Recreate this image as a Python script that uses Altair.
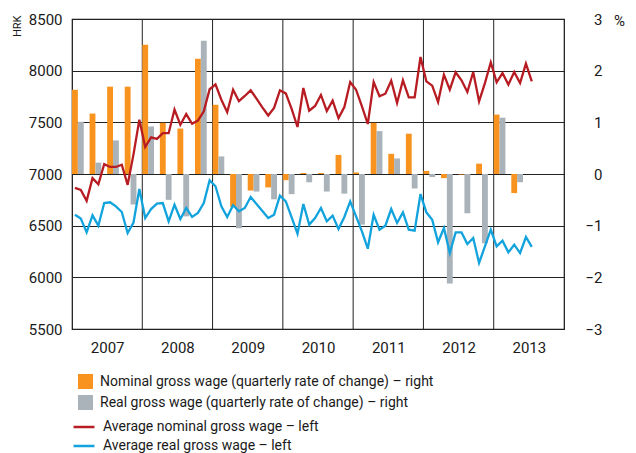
import altair as alt
import pandas as pd

FONT = "Roboto, Liberation Sans, sans-serif"

years = [2007, 2008, 2009, 2010, 2011, 2012, 2013]

# quarterly rates of change (%), 2007Q1 .. 2013Q2 (right axis)
nominal_q = [1.63, 1.17, 1.69, 1.69, 2.50, 0.99, 0.88, 2.23,
             1.34, -0.64, -0.32, -0.26, -0.12, 0.02, 0.02, 0.37,
             0.03, 0.99, 0.39, 0.78, 0.06, -0.08, -0.01, 0.20,
             1.15, -0.37]
real_q = [1.01, 0.22, 0.65, -0.59, 0.92, -0.50, -0.82, 2.58,
          0.34, -1.05, -0.34, -0.49, -0.39, -0.16, -0.34, -0.38,
          -0.98, 0.83, 0.30, -0.28, -0.06, -2.12, -0.76, -1.34,
          1.09, -0.16]

# monthly average wages (HRK), Jan 2007 .. Jul 2013 (left axis)
nominal_m = [6865, 6845, 6740, 6960, 6900, 7095, 7068, 7068, 7090, 6895, 7190, 7526,
             7261, 7355, 7340, 7395, 7395, 7623, 7477, 7580, 7486, 7517, 7606, 7820,
             7868, 7719, 7598, 7816, 7705, 7755, 7810, 7730, 7645, 7566, 7639, 7810,
             7780, 7630, 7455, 7832, 7612, 7658, 7765, 7610, 7710, 7542, 7648, 7890,
             7816, 7655, 7484, 7890, 7752, 7777, 7903, 7687, 7907, 7742, 7742, 8132,
             7897, 7855, 7697, 7961, 7816, 7984, 7907, 7794, 7987, 7703, 7880, 8081,
             7887, 7977, 7865, 7987, 7881, 8068, 7897]
real_m = [6606, 6568, 6435, 6600, 6500, 6719, 6726, 6687, 6632, 6429, 6530, 6855,
          6574, 6661, 6713, 6719, 6542, 6703, 6565, 6671, 6584, 6623, 6719, 6939,
          6881, 6687, 6584, 6697, 6639, 6671, 6777, 6710, 6642, 6574, 6606, 6790,
          6735, 6580, 6423, 6710, 6510, 6574, 6671, 6542, 6597, 6468, 6584, 6735,
          6590, 6445, 6277, 6606, 6461, 6500, 6661, 6526, 6629, 6461, 6452, 6806,
          6629, 6558, 6339, 6477, 6235, 6435, 6435, 6323, 6381, 6139, 6300, 6461,
          6300, 6355, 6242, 6316, 6235, 6390, 6294]

bar_labels = ["Nominal gross wage (quarterly rate of change) – right",
              "Real gross wage (quarterly rate of change) – right"]
line_labels = ["Average nominal gross wage – left",
               "Average real gross wage – left"]
bar_colors = ["#F7931E", "#A9B3B9"]
line_colors = ["#B81C23", "#12A3DD"]

# ---- tables built from the arrays ----
bar_rows = []
for i, (n, r) in enumerate(zip(nominal_q, real_q)):
    bar_rows.append({"series": bar_labels[0], "x0": i * 3, "x1": i * 3 + 1, "v": n})
    bar_rows.append({"series": bar_labels[1], "x0": i * 3 + 1, "x1": i * 3 + 2, "v": r})
bars_df = pd.DataFrame(bar_rows)

line_rows = []
for m, (n, r) in enumerate(zip(nominal_m, real_m)):
    line_rows.append({"series": line_labels[0], "x": m + 0.5, "v": n})
    line_rows.append({"series": line_labels[1], "x": m + 0.5, "v": r})
lines_df = pd.DataFrame(line_rows)

bounds_df = pd.DataFrame({"b": [(y - years[0]) * 12 for y in years[1:]]})

nmonths = len(years) * 12
xscale = alt.Scale(domain=[0, nmonths], nice=False, zero=False)
xaxis = alt.Axis(values=[(y - years[0]) * 12 + 6 for y in years],
                 labelExpr="'' + (%d + floor(datum.value / 12))" % years[0],
                 grid=False, ticks=False, domain=False, title=None,
                 labelPadding=11, labelFontSize=15, labelFont=FONT, labelColor="#1a1a1a")

LEG = dict(orient="none", title=None, padding=0, labelFontSize=14, labelFont=FONT,
           labelColor="#1a1a1a", labelLimit=0, labelOffset=7,
           direction="vertical", symbolOpacity=1)

vgrid = alt.Chart(bounds_df).mark_rule(color="#222", strokeWidth=1).encode(
    x=alt.X("b:Q", scale=xscale, axis=xaxis)
)

bars = alt.Chart(bars_df).mark_bar().encode(
    x=alt.X("x0:Q", scale=xscale, axis=xaxis),
    x2="x1:Q",
    y=alt.Y("v:Q", scale=alt.Scale(domain=[-3, 3], nice=False),
            axis=alt.Axis(orient="right", values=[-3, -2, -1, 0, 1, 2, 3], grid=False,
                          ticks=False, domain=False, labelAlign="right", labelPadding=38,
                          format="d",
                          labelFontSize=15, labelFont=FONT, labelColor="#1a1a1a",
                          title="%", titleAngle=0, titleX=55, titleY=1,
                          titleAlign="center", titleBaseline="middle",
                          titleFontSize=15, titleFont=FONT, titleFontWeight="normal",
                          titleColor="#1a1a1a")),
    y2=alt.datum(0),
    fill=alt.Fill("series:N", scale=alt.Scale(domain=bar_labels, range=bar_colors),
                  legend=alt.Legend(legendX=6, legendY=355, symbolType="square",
                                    symbolSize=225, symbolStrokeWidth=0, rowPadding=6,
                                    **LEG)),
)

lines = alt.Chart(lines_df).mark_line(strokeWidth=2.3).encode(
    x=alt.X("x:Q", scale=xscale, axis=xaxis),
    y=alt.Y("v:Q", scale=alt.Scale(domain=[5500, 8500], nice=False, zero=False),
            axis=alt.Axis(orient="left", values=[5500, 6000, 6500, 7000, 7500, 8000, 8500],
                          format="d",
                          grid=True, gridColor="#222", gridWidth=1, gridOpacity=1,
                          ticks=False, domain=False, labelPadding=10,
                          labelFontSize=15, labelFont=FONT, labelColor="#1a1a1a",
                          title="HRK", titleAngle=-90, titleX=-52, titleY=-4,
                          titleAlign="right", titleBaseline="alphabetic",
                          titleFontSize=11, titleFont=FONT, titleFontWeight="normal",
                          titleColor="#1a1a1a")),
    stroke=alt.Stroke("series:N", scale=alt.Scale(domain=line_labels, range=line_colors),
                      legend=alt.Legend(legendX=0, legendY=396, symbolType="stroke",
                                        symbolSize=440, symbolStrokeWidth=2.5, rowPadding=0,
                                        **LEG)),
)

top_line = alt.Chart(bounds_df).mark_rule(color="#555", strokeWidth=1).encode(
    x=alt.value(-60), x2=alt.value(553), y=alt.value(-15)
)

chart = alt.layer(vgrid, bars, lines, top_line).resolve_scale(
    y="independent"
).properties(
    width=492, height=310,
    padding={"left": 64, "top": 11, "right": 64, "bottom": 124},
    autosize=alt.AutoSizeParams(type="none"),
).configure_view(stroke="#111", strokeWidth=1.2)

chart.save("out.html", embed_options={"renderer": "svg", "actions": False})
